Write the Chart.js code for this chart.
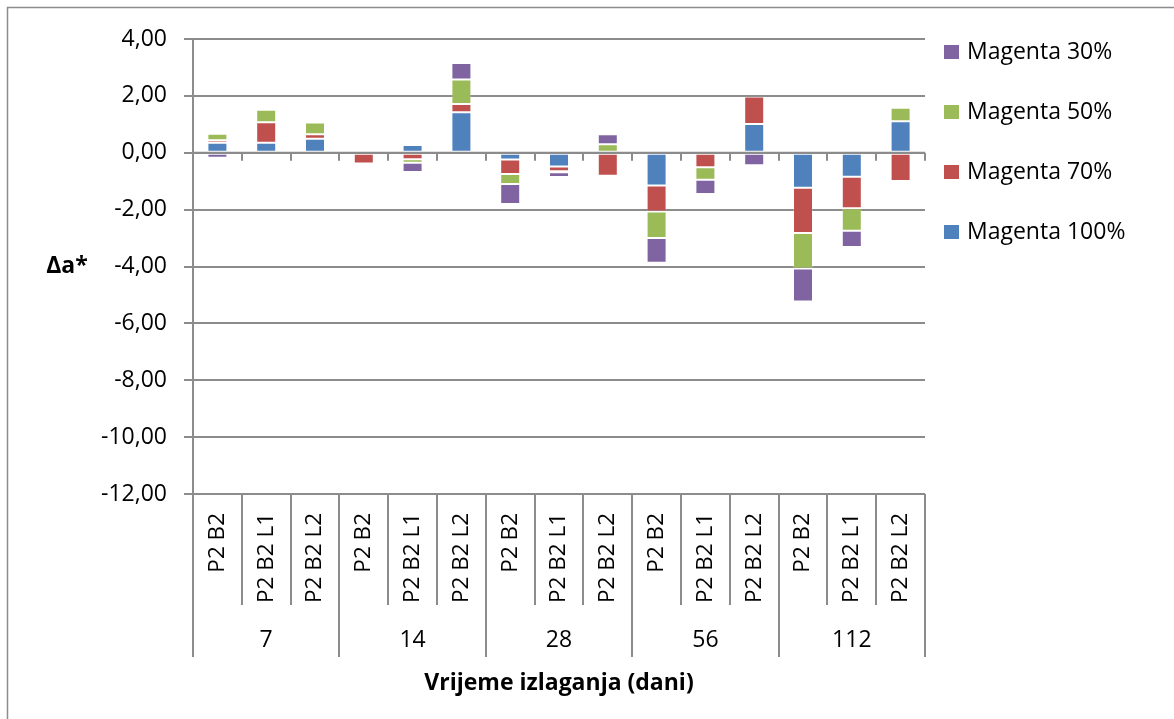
<!DOCTYPE html>
<html>
<head>
<meta charset="utf-8">
<script src="https://cdn.jsdelivr.net/npm/chart.js@4.4.1/dist/chart.umd.min.js"></script>
<style>
  html, body { margin: 0; padding: 0; background: #fff; overflow: hidden; }
</style>
</head>
<body>
<canvas id="chart" width="1174" height="719"></canvas>
<script>
// samples within each exposure time (days)
const samples = ["P2 B2", "P2 B2 L1", "P2 B2 L2",
                 "P2 B2", "P2 B2 L1", "P2 B2 L2",
                 "P2 B2", "P2 B2 L1", "P2 B2 L2",
                 "P2 B2", "P2 B2 L1", "P2 B2 L2",
                 "P2 B2", "P2 B2 L1", "P2 B2 L2"];
const days = ["7", "14", "28", "56", "112"];

// delta a* per tone value
const magenta100 = [0.35, 0.35, 0.49, 0.02, 0.27, 1.42, -0.24, -0.48, 0.00, -1.15, 0.09, 1.01, -1.23, -0.84, 1.11];
const magenta70  = [0.09, 0.72, 0.16, -0.38, -0.23, 0.29, -0.51, -0.17, -0.81, -0.92, -0.51, 0.97, -1.59, -1.11, -0.99];
const magenta50  = [0.23, 0.44, 0.41, -0.03, -0.12, 0.87, -0.35, -0.04, 0.30, -0.93, -0.44, 0.00, -1.25, -0.79, 0.47];
const magenta30  = [-0.18, -0.08, -0.05, 0.00, -0.33, 0.58, -0.70, -0.16, 0.35, -0.87, -0.50, -0.44, -1.16, -0.57, 0.06];

const yMin = -12, yMax = 4, yStep = 2;

const FONT = '"Open Sans", sans-serif';
const GRID = "#8c8c8c";

const decor = {
    id: "decor",
    beforeDraw(chart) {
        const ctx = chart.ctx;
        ctx.save();
        ctx.fillStyle = "#fff";
        ctx.fillRect(0, 0, chart.width, chart.height);
        ctx.strokeStyle = GRID;
        ctx.lineWidth = 1.5;
        ctx.strokeRect(7.5, 7.5, chart.width + 20, chart.height + 20);
        ctx.restore();
    },
    afterDatasetsDraw(chart) {
        const { ctx, chartArea: a, scales: { x, y } } = chart;
        const y0 = y.getPixelForValue(0);
        const half = (x.getPixelForValue(1) - x.getPixelForValue(0)) / 2;
        ctx.save();

        // horizontal axis at zero with tick marks, and category separators below the plot
        ctx.strokeStyle = GRID;
        ctx.lineWidth = 2;
        ctx.beginPath();
        ctx.moveTo(a.left, y0);
        ctx.lineTo(a.right, y0);
        for (let i = 0; i <= samples.length; i++) {
            const bx = Math.round(x.getPixelForValue(i) - half);
            ctx.moveTo(bx, y0);
            ctx.lineTo(bx, y0 + 8);
            ctx.moveTo(bx, a.bottom);
            ctx.lineTo(bx, a.bottom + (i % 3 === 0 ? 163 : 111));
        }
        ctx.stroke();

        // group labels (days)
        ctx.fillStyle = "#000";
        ctx.textAlign = "center";
        ctx.textBaseline = "middle";
        ctx.font = `23px ${FONT}`;
        days.forEach((d, g) => {
            const cx = (x.getPixelForValue(g * 3) + x.getPixelForValue(g * 3 + 2)) / 2;
            ctx.fillText(d, cx, a.bottom + 146);
        });

        // axis titles
        ctx.font = `bold 23px ${FONT}`;
        ctx.fillText("Vrijeme izlaganja (dani)", (a.left + a.right) / 2, a.bottom + 189);
        ctx.fillText("Δa*", 67, (a.top + a.bottom) / 2);

        // legend, last series first
        ctx.textAlign = "left";
        ctx.font = `23px ${FONT}`;
        const sets = chart.data.datasets.slice().reverse();
        sets.forEach((ds, k) => {
            const cy = 52 + k * 60;
            ctx.fillStyle = ds.backgroundColor;
            ctx.fillRect(944, cy - 7, 15, 14);
            ctx.fillStyle = "#000";
            ctx.fillText(ds.label, 967, cy);
        });
        ctx.restore();
    }
};

const ctx = document.getElementById("chart").getContext("2d");
new Chart(ctx, {
    type: "bar",
    data: {
        labels: samples,
        datasets: [
            { label: "Magenta 100%", data: magenta100, backgroundColor: "#4f81bd" },
            { label: "Magenta 70%",  data: magenta70,  backgroundColor: "#c0504d" },
            { label: "Magenta 50%",  data: magenta50,  backgroundColor: "#9bbb59" },
            { label: "Magenta 30%",  data: magenta30,  backgroundColor: "#8064a2" }
        ]
    },
    options: {
        responsive: false,
        animation: false,
        layout: { padding: { left: 0, top: 39, right: 249, bottom: 0 } },
        datasets: {
            bar: {
                barPercentage: 0.41,
                categoryPercentage: 1,
                borderWidth: 1,
                borderColor: "rgba(255,255,255,0.2)",
                borderSkipped: false
            }
        },
        plugins: {
            legend: { display: false },
            tooltip: { enabled: false }
        },
        scales: {
            x: {
                stacked: true,
                grid: { display: false, drawTicks: false },
                border: { display: false },
                ticks: {
                    autoSkip: false,
                    minRotation: 90,
                    maxRotation: 90,
                    padding: 19,
                    color: "#000",
                    font: { family: FONT, size: 22.5 }
                },
                afterFit(scale) { scale.height = 719 - 494; }
            },
            y: {
                stacked: true,
                min: yMin,
                max: yMax,
                grid: { color: GRID, lineWidth: 2, tickLength: 9 },
                border: { color: GRID, width: 2 },
                ticks: {
                    stepSize: yStep,
                    padding: 17,
                    color: "#000",
                    font: { family: FONT, size: 23 },
                    callback: v => v.toFixed(2).replace(".", ",")
                },
                afterFit(scale) { scale.width = 193; }
            }
        }
    },
    plugins: [decor]
});
</script>
</body>
</html>
